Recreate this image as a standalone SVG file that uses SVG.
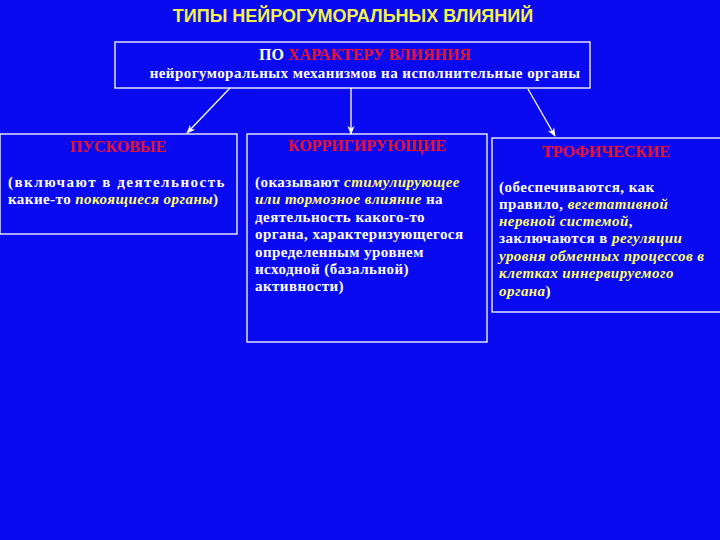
<svg xmlns="http://www.w3.org/2000/svg" width="720" height="540" viewBox="0 0 720 540">
<defs>
<style>
.bg{fill:#0a0af0}
.box{fill:none;stroke:#ffffff;stroke-width:1.3}
.title{font-family:"Liberation Sans",Arial,sans-serif;font-weight:bold;font-size:18px;fill:#f2f24a}
.s{font-family:"Liberation Serif","Times New Roman",serif;font-size:15px;font-weight:bold;letter-spacing:0.45px;fill:#ffffff}
.t{font-family:"Liberation Serif","Times New Roman",serif;font-size:16px;font-weight:bold;fill:#ffffff}
.h{font-family:"Liberation Serif","Times New Roman",serif;font-weight:bold;font-size:16px;fill:#e8102a}
.y{fill:#ffff66;font-style:italic}
.r{fill:#e8102a}
.con line{stroke:#ffffff;stroke-width:1.3}
</style>
<marker id="arr" viewBox="0 0 10 10" refX="9" refY="5" markerWidth="9" markerHeight="9" orient="auto" markerUnits="userSpaceOnUse">
<path d="M0,1 L10,5 L0,9 L3,5 Z" fill="#ffffff"/>
</marker>
</defs>
<rect class="bg" x="0" y="0" width="720" height="540"/>
<text class="title" x="353" y="22" text-anchor="middle">ТИПЫ НЕЙРОГУМОРАЛЬНЫХ ВЛИЯНИЙ</text>

<g id="top">
<rect class="box" x="115" y="42" width="475" height="46"/>
<text class="t" x="365" y="60" text-anchor="middle">ПО <tspan class="r">ХАРАКТЕРУ ВЛИЯНИЯ</tspan></text>
<text class="s" x="365" y="78" text-anchor="middle">нейрогуморальных механизмов на исполнительные органы</text>
</g>

<g class="con">
<line x1="230" y1="88" x2="187" y2="133" marker-end="url(#arr)"/>
<line x1="351" y1="88" x2="351" y2="134" marker-end="url(#arr)"/>
<line x1="528" y1="89" x2="555" y2="136" marker-end="url(#arr)"/>
</g>

<g id="puskovye">
<rect class="box" x="0" y="134" width="237" height="100"/>
<text class="h" x="118" y="152" text-anchor="middle">ПУСКОВЫЕ</text>
<text class="s" x="8" y="187" textLength="217" lengthAdjust="spacing">(включают в деятельность</text>
<text class="s" x="8" y="204">какие-то <tspan class="y">покоящиеся органы</tspan>)</text>
</g>

<g id="korrigiruyushchie">
<rect class="box" x="247" y="134" width="240" height="208"/>
<text class="h" x="367" y="151" text-anchor="middle">КОРРИГИРУЮЩИЕ</text>
<text class="s" x="255" y="187">(оказывают <tspan class="y">стимулирующее</tspan></text>
<text class="s" x="255" y="204"><tspan class="y">или тормозное влияние</tspan> на</text>
<text class="s" x="255" y="222">деятельность какого-то</text>
<text class="s" x="255" y="239">органа, характеризующегося</text>
<text class="s" x="255" y="257">определенным уровнем</text>
<text class="s" x="255" y="274">исходной (базальной)</text>
<text class="s" x="255" y="291">активности)</text>
</g>

<g id="troficheskie">
<rect class="box" x="492" y="138" width="240" height="174"/>
<text class="h" x="606" y="157" text-anchor="middle">ТРОФИЧЕСКИЕ</text>
<text class="s" x="499" y="192">(обеспечиваются, как</text>
<text class="s" x="499" y="209">правило, <tspan class="y">вегетативной</tspan></text>
<text class="s" x="499" y="226"><tspan class="y">нервной системой</tspan>,</text>
<text class="s" x="499" y="243">заключаются в <tspan class="y">регуляции</tspan></text>
<text class="s" x="499" y="261"><tspan class="y">уровня обменных процессов в</tspan></text>
<text class="s" x="499" y="278"><tspan class="y">клетках иннервируемого</tspan></text>
<text class="s" x="499" y="296"><tspan class="y">органа</tspan>)</text>
</g>
</svg>
